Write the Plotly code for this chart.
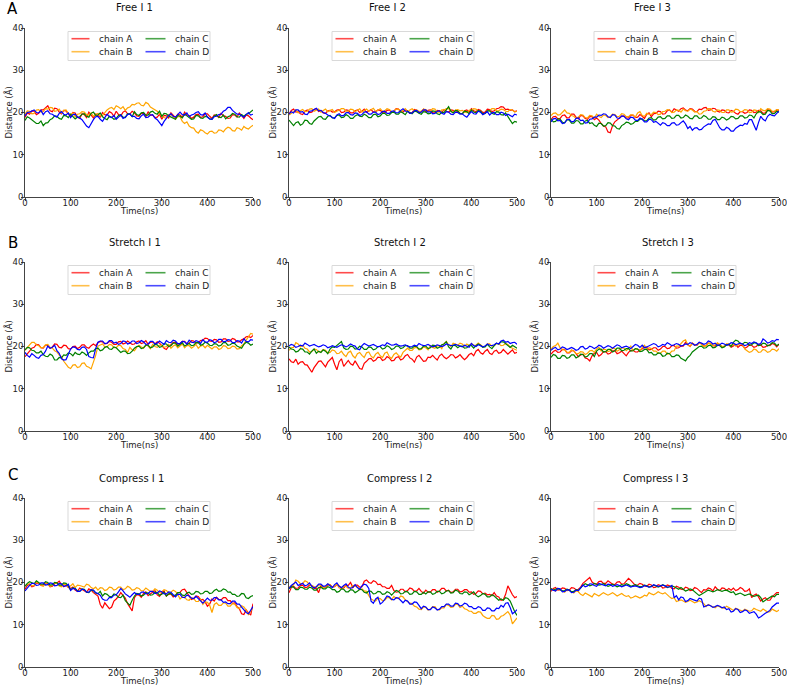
import plotly.graph_objects as go

# ---------------- data ----------------
TIME_NS = list(range(0, 501, 5))
X_TICKS = [0, 100, 200, 300, 400, 500]
Y_TICKS = [0, 10, 20, 30, 40]
CHAINS = ["chain A", "chain B", "chain C", "chain D"]
PANEL_TITLES = ["Free I 1", "Free I 2", "Free I 3",
                "Stretch I 1", "Stretch I 2", "Stretch I 3",
                "Compress I 1", "Compress I 2", "Compress I 3"]
ROW_LETTERS = ["A", "B", "C"]

FREE1_A = [18.8, 19.9, 19.6, 20.4, 20.3, 19.5, 19.8, 20.6, 20.6, 21.2, 21.6, 20.4, 20.2, 21.0, 20.9, 20.1, 19.7, 20.5, 20.4, 19.6,
           19.2, 20.0, 19.9, 18.9, 18.6, 19.7, 19.5, 18.8, 20.1, 19.4, 18.7, 19.6, 19.3, 18.9, 20.0, 19.5, 19.4, 20.2, 19.9, 19.1,
           20.3, 19.5, 19.2, 20.1, 20.4, 19.7, 19.6, 20.3, 19.9, 19.2, 19.1, 19.8, 19.8, 19.0, 20.2, 19.4, 19.4, 18.8, 18.9, 19.6,
           18.4, 19.3, 19.2, 18.7, 19.9, 19.3, 18.8, 19.6, 19.4, 18.9, 20.1, 19.4, 19.3, 18.6, 18.9, 19.5, 19.6, 18.8, 19.0, 19.7,
           19.7, 19.1, 18.6, 19.4, 19.3, 18.8, 19.8, 19.2, 19.1, 18.6, 18.7, 19.5, 19.4, 18.9, 19.9, 19.3, 18.6, 19.4, 19.2, 18.7, 18.3]
FREE1_B = [19.6, 20.4, 20.3, 19.7, 19.8, 20.6, 20.7, 20.1, 20.2, 20.9, 20.8, 21.2, 21.1, 20.3, 20.4, 20.8, 19.9, 20.5, 20.6, 19.8,
           19.5, 19.9, 19.0, 19.6, 19.7, 20.2, 20.1, 19.5, 19.4, 19.9, 19.1, 19.6, 19.8, 19.2, 19.3, 20.1, 20.6, 21.0, 21.2, 20.7,
           21.6, 21.3, 20.9, 21.4, 20.5, 21.1, 21.3, 21.9, 21.8, 22.2, 22.3, 21.7, 21.6, 22.4, 22.1, 21.3, 21.0, 20.6, 20.3, 19.7,
           19.2, 18.8, 18.6, 19.5, 19.6, 18.9, 18.4, 19.1, 19.0, 17.9, 17.4, 17.8, 16.8, 16.4, 16.3, 15.5, 15.1, 15.9, 15.7, 15.2,
           14.9, 15.5, 15.6, 15.1, 15.2, 15.9, 15.8, 15.4, 16.1, 16.5, 16.3, 15.7, 15.6, 16.4, 16.2, 15.8, 16.7, 16.3, 16.1, 16.6, 17.0]
FREE1_C = [18.1, 19.0, 18.7, 18.2, 17.9, 17.4, 17.4, 18.0, 16.9, 17.5, 17.6, 18.3, 18.6, 19.2, 19.1, 18.6, 18.4, 19.3, 19.2, 18.8,
           19.6, 19.0, 18.5, 18.9, 19.0, 19.6, 19.7, 19.1, 18.9, 19.8, 20.1, 19.3, 19.4, 19.9, 19.0, 18.6, 18.3, 19.1, 18.9, 18.4,
           18.6, 19.3, 19.5, 18.9, 18.8, 19.7, 19.6, 19.0, 20.2, 19.5, 19.3, 19.9, 20.0, 19.4, 19.4, 20.1, 20.3, 19.8, 19.6, 20.3,
           19.1, 19.8, 19.7, 19.2, 18.9, 18.5, 18.4, 19.3, 19.1, 18.7, 19.6, 19.2, 18.9, 18.4, 18.5, 19.3, 19.2, 18.7, 18.6, 19.1,
           19.0, 18.5, 18.4, 19.2, 19.5, 18.9, 18.8, 19.4, 18.5, 19.0, 19.2, 19.8, 19.6, 19.0, 18.9, 19.5, 19.1, 19.6, 19.7, 20.2, 20.6]
FREE1_D = [19.2, 20.0, 20.1, 20.4, 20.6, 20.0, 19.9, 20.5, 19.5, 20.2, 20.4, 19.7, 19.6, 19.2, 18.9, 19.8, 20.2, 19.6, 19.4, 19.9,
           18.8, 19.5, 19.6, 18.9, 18.7, 18.3, 17.6, 16.8, 16.4, 17.5, 18.3, 19.0, 19.1, 18.4, 17.9, 18.8, 19.6, 19.0, 18.8, 19.3,
           18.4, 18.9, 19.4, 18.6, 18.9, 19.5, 19.7, 19.1, 19.1, 18.6, 18.5, 19.2, 19.6, 18.8, 18.9, 19.4, 19.5, 18.7, 18.3, 17.6,
           16.9, 17.9, 18.6, 19.3, 19.7, 19.1, 18.9, 19.6, 20.1, 19.5, 19.4, 19.9, 19.0, 19.4, 19.6, 20.0, 20.2, 19.5, 19.4, 19.9,
           18.9, 18.5, 18.4, 19.0, 19.1, 19.5, 19.6, 20.3, 20.6, 21.2, 21.2, 20.5, 20.1, 19.6, 19.6, 19.2, 18.9, 19.5, 20.0, 19.4, 19.6]

FREE2_A = [19.6, 20.5, 20.8, 20.1, 20.2, 19.7, 19.5, 20.3, 20.6, 20.0, 20.1, 20.7, 20.9, 20.2, 20.4, 19.9, 19.8, 20.4, 20.5, 20.1,
           20.2, 20.6, 20.7, 20.0, 20.1, 20.6, 20.5, 19.9, 19.9, 20.4, 20.6, 20.0, 20.3, 20.8, 20.0, 20.4, 20.7, 20.1, 20.2, 20.6,
           20.5, 20.0, 19.9, 20.5, 20.6, 20.1, 20.3, 20.9, 20.8, 20.2, 20.1, 20.6, 20.4, 19.8, 20.0, 20.7, 20.5, 20.0, 20.2, 20.8,
           20.2, 20.5, 20.6, 20.0, 19.9, 20.5, 20.4, 20.0, 20.7, 20.3, 20.1, 20.6, 20.5, 20.0, 20.3, 19.8, 19.7, 20.4, 20.6, 20.1,
           20.9, 20.4, 20.2, 20.7, 20.5, 20.0, 20.1, 20.8, 20.7, 20.2, 20.4, 20.9, 21.0, 21.4, 21.3, 20.7, 20.8, 20.5, 20.6, 20.2, 20.4]
FREE2_B = [19.4, 19.9, 20.2, 20.6, 19.9, 20.4, 20.7, 20.2, 20.3, 20.8, 20.9, 20.3, 20.5, 20.8, 20.1, 20.5, 20.8, 20.2, 20.4, 20.7,
           20.0, 20.4, 20.6, 20.9, 20.9, 20.3, 20.3, 20.8, 20.7, 20.2, 20.5, 20.9, 20.1, 20.5, 20.8, 20.3, 20.6, 21.0, 20.2, 20.6,
           20.9, 20.3, 20.4, 20.9, 20.7, 20.2, 20.3, 20.8, 20.8, 20.3, 20.5, 20.9, 20.2, 20.6, 20.9, 20.4, 20.6, 20.3, 20.3, 20.8,
           20.7, 20.2, 20.4, 20.9, 20.8, 20.1, 20.1, 20.6, 20.6, 20.9, 20.9, 20.3, 20.1, 20.6, 20.7, 20.4, 20.5, 20.1, 20.0, 20.5,
           20.6, 20.9, 20.8, 20.3, 20.3, 19.7, 19.7, 20.4, 20.5, 20.9, 20.9, 20.4, 20.4, 20.8, 20.7, 20.3, 20.2, 20.7, 20.6, 20.1, 20.3]
FREE2_C = [18.2, 17.4, 16.9, 17.6, 17.8, 17.0, 17.3, 18.2, 18.1, 17.4, 17.2, 18.0, 18.6, 19.0, 19.1, 18.5, 18.4, 19.1, 19.3, 18.7,
           18.7, 19.3, 19.4, 18.8, 18.9, 19.5, 19.2, 18.6, 18.6, 19.2, 19.5, 19.1, 19.0, 19.6, 19.3, 18.8, 18.8, 19.5, 19.6, 19.0,
           19.2, 19.8, 19.8, 19.3, 19.4, 20.0, 20.1, 19.6, 19.6, 20.2, 19.9, 19.5, 20.3, 20.0, 19.7, 20.3, 20.2, 19.8, 19.6, 20.2,
           20.1, 19.7, 19.8, 20.4, 20.3, 19.7, 19.5, 20.1, 20.0, 20.6, 21.4, 20.3, 19.9, 20.5, 20.4, 19.8, 19.7, 20.3, 20.2, 19.7,
           20.6, 20.1, 19.9, 20.5, 20.3, 19.7, 19.8, 20.4, 20.4, 19.8, 19.6, 20.2, 20.1, 19.5, 19.4, 19.9, 18.9, 18.2, 17.4, 17.9, 17.7]
FREE2_D = [19.6, 20.2, 19.9, 20.6, 20.6, 20.1, 20.2, 19.6, 19.5, 20.3, 20.4, 20.8, 21.0, 20.4, 20.5, 20.0, 19.8, 19.4, 19.2, 18.8,
           18.6, 19.4, 19.7, 19.2, 19.3, 19.9, 20.0, 19.5, 19.4, 19.9, 19.8, 19.3, 19.5, 20.1, 20.2, 19.6, 19.6, 20.1, 20.1, 19.5,
           19.7, 20.2, 20.3, 19.8, 19.8, 20.3, 20.4, 19.9, 20.0, 20.5, 20.9, 20.3, 20.3, 19.8, 19.9, 20.4, 20.5, 20.0, 20.1, 20.6,
           20.6, 20.1, 20.2, 19.7, 19.8, 20.3, 20.4, 19.8, 19.6, 20.2, 20.1, 19.6, 19.5, 20.1, 20.0, 19.6, 19.7, 19.2, 18.9, 19.6,
           20.2, 19.7, 19.6, 20.3, 20.1, 19.5, 19.8, 20.2, 19.4, 19.9, 20.0, 19.5, 19.5, 20.1, 19.9, 19.3, 19.6, 19.2, 19.0, 19.6, 19.4]

FREE3_A = [18.3, 19.0, 19.1, 18.5, 18.6, 19.3, 19.4, 18.7, 18.8, 19.6, 19.6, 18.9, 18.5, 19.3, 19.2, 18.6, 18.4, 19.1, 19.0, 18.3,
           18.7, 18.2, 17.4, 16.8, 16.6, 15.4, 15.2, 16.9, 17.8, 18.3, 18.6, 19.1, 19.2, 18.7, 18.7, 19.3, 19.4, 18.8, 18.9, 19.5,
           19.1, 18.6, 19.6, 19.9, 19.0, 19.7, 19.8, 20.3, 20.2, 19.6, 19.7, 20.4, 20.6, 20.1, 20.9, 20.5, 20.3, 20.9, 21.1, 20.6,
           20.4, 20.9, 20.8, 20.3, 20.2, 20.8, 20.7, 21.1, 21.2, 20.5, 20.6, 21.0, 20.9, 20.3, 20.1, 20.6, 20.5, 20.0, 19.9, 20.5,
           20.3, 19.8, 19.6, 20.2, 20.2, 19.8, 20.0, 20.6, 20.5, 20.0, 20.1, 20.5, 20.4, 19.8, 19.9, 20.7, 20.6, 20.1, 20.2, 20.6, 20.5]
FREE3_B = [19.3, 19.8, 19.9, 19.4, 19.5, 20.1, 20.6, 19.9, 19.8, 19.3, 19.1, 18.6, 18.9, 19.5, 19.4, 18.8, 18.7, 19.3, 19.2, 18.6,
           19.6, 19.1, 18.8, 19.4, 19.3, 18.8, 19.0, 19.6, 19.5, 19.0, 19.1, 19.7, 19.6, 19.0, 19.0, 19.5, 19.4, 18.9, 19.9, 20.2,
           19.3, 19.1, 19.8, 19.6, 19.5, 20.1, 20.0, 19.5, 19.6, 20.2, 20.3, 20.7, 20.6, 20.0, 20.1, 20.6, 20.5, 20.1, 20.8, 20.4,
           20.3, 20.8, 20.6, 20.1, 20.2, 19.6, 19.7, 20.3, 20.4, 20.9, 20.9, 20.3, 20.1, 20.6, 20.5, 20.0, 20.0, 20.6, 20.6, 20.1,
           20.2, 20.8, 20.7, 20.2, 20.3, 20.7, 20.6, 20.0, 20.1, 20.6, 20.5, 20.0, 20.9, 20.5, 20.4, 20.9, 20.8, 20.3, 20.3, 20.7, 20.6]
FREE3_C = [18.5, 17.8, 17.9, 18.5, 18.4, 17.7, 17.6, 18.3, 18.2, 17.5, 17.5, 18.1, 18.0, 17.3, 17.3, 18.0, 18.1, 17.4, 17.6, 17.0,
           16.7, 17.5, 17.4, 16.8, 16.9, 17.6, 17.5, 16.9, 16.8, 16.2, 16.1, 16.9, 17.2, 17.7, 17.6, 17.2, 17.4, 17.9, 17.9, 18.4,
           18.5, 18.0, 18.1, 18.7, 18.8, 18.2, 18.3, 18.9, 19.0, 18.5, 18.6, 19.2, 19.2, 18.6, 18.7, 19.3, 19.3, 18.7, 18.8, 19.4,
           19.1, 18.6, 18.5, 19.2, 19.2, 18.6, 18.7, 19.3, 19.0, 18.4, 18.4, 19.0, 18.9, 18.3, 18.3, 18.9, 18.7, 18.2, 18.5, 19.1,
           19.0, 18.5, 18.6, 19.2, 19.2, 18.7, 18.8, 19.4, 19.3, 18.7, 19.7, 20.2, 20.1, 19.5, 19.6, 20.5, 20.4, 19.7, 19.8, 20.3, 20.1]
FREE3_D = [17.8, 18.5, 18.6, 18.0, 18.1, 17.4, 17.5, 18.3, 18.4, 17.8, 17.9, 18.6, 18.7, 18.1, 18.2, 17.5, 17.6, 18.4, 18.5, 18.9,
           18.9, 19.4, 19.3, 19.7, 19.6, 19.0, 18.8, 19.5, 19.4, 18.7, 18.6, 19.2, 19.1, 18.5, 18.3, 18.9, 18.8, 18.2, 18.1, 18.7,
           18.4, 17.8, 17.8, 18.4, 18.3, 17.7, 17.9, 17.4, 17.0, 17.6, 17.4, 16.9, 16.9, 17.5, 17.6, 17.0, 17.1, 17.6, 18.0, 17.3,
           16.2, 16.7, 15.8, 16.3, 16.4, 15.9, 16.0, 16.6, 16.9, 17.3, 17.2, 18.1, 18.4, 17.5, 16.4, 15.9, 15.9, 16.5, 16.2, 15.6,
           15.6, 16.3, 16.6, 17.0, 16.9, 17.4, 17.2, 18.3, 18.3, 17.1, 15.8, 17.6, 19.1, 18.4, 18.0, 19.1, 19.6, 19.3, 19.2, 19.8, 20.3]

STRETCH1_A = [17.6, 18.4, 18.9, 19.6, 19.8, 20.5, 20.4, 19.7, 19.6, 20.3, 20.3, 19.6, 19.9, 20.6, 20.5, 19.8, 19.7, 20.3, 20.2, 19.5,
              19.4, 20.0, 20.1, 19.5, 19.8, 20.4, 20.4, 19.8, 19.6, 20.2, 20.6, 20.2, 20.9, 21.2, 21.1, 20.6, 20.7, 21.2, 21.0, 20.5,
              20.5, 21.1, 21.2, 20.6, 20.8, 21.3, 21.0, 20.5, 20.6, 21.1, 21.3, 20.7, 20.9, 21.4, 20.5, 21.0, 21.1, 20.6, 21.1, 20.8,
              20.2, 19.6, 19.3, 20.1, 20.4, 21.0, 21.0, 20.5, 20.7, 21.2, 21.2, 20.6, 20.8, 21.4, 21.3, 20.8, 20.9, 21.4, 21.5, 22.0,
              21.9, 21.3, 21.2, 21.7, 21.6, 21.0, 21.1, 21.8, 21.8, 21.2, 21.3, 21.9, 21.7, 21.1, 21.1, 21.6, 21.8, 22.3, 22.4, 22.1, 22.6]
STRETCH1_B = [19.1, 19.9, 20.4, 21.0, 21.0, 20.4, 20.2, 19.7, 19.8, 20.4, 20.5, 19.8, 19.6, 19.0, 18.7, 18.0, 17.6, 16.5, 15.9, 15.1,
              14.8, 15.6, 15.7, 15.0, 15.2, 16.0, 16.1, 15.3, 15.1, 14.7, 16.3, 17.9, 20.1, 20.4, 20.6, 19.9, 19.9, 20.5, 20.4, 19.7,
              19.7, 20.3, 20.2, 19.5, 19.3, 18.6, 19.8, 19.2, 19.0, 19.8, 20.3, 19.9, 19.6, 20.4, 20.1, 19.5, 20.5, 20.0, 19.8, 20.3,
              20.3, 19.8, 20.0, 20.5, 19.6, 20.1, 20.4, 19.7, 20.1, 20.6, 19.7, 20.2, 20.2, 19.6, 20.0, 20.5, 19.6, 20.1, 20.3, 19.7,
              20.3, 19.8, 19.4, 19.9, 19.9, 19.3, 19.5, 20.2, 20.1, 19.5, 19.6, 20.1, 20.0, 19.4, 19.5, 20.2, 20.6, 21.5, 22.3, 23.1, 22.9]
STRETCH1_C = [19.2, 19.8, 19.7, 19.1, 19.0, 18.5, 18.5, 18.9, 18.1, 17.7, 17.6, 18.2, 17.9, 16.8, 16.8, 17.4, 17.3, 18.0, 17.9, 18.5,
              18.3, 17.8, 18.6, 18.2, 18.1, 18.7, 18.4, 17.9, 18.5, 18.9, 18.9, 19.5, 19.6, 19.0, 19.2, 19.8, 20.0, 19.4, 19.3, 19.9,
              19.7, 19.1, 18.6, 18.9, 18.9, 18.3, 18.4, 18.9, 19.6, 20.0, 20.1, 19.5, 19.7, 20.3, 20.3, 19.7, 19.9, 20.5, 20.4, 19.8,
              20.0, 20.7, 20.6, 20.0, 20.2, 20.8, 20.8, 20.1, 20.4, 20.9, 20.1, 20.5, 20.7, 20.2, 20.3, 20.9, 20.9, 20.3, 20.5, 21.0,
              20.8, 20.3, 20.2, 20.7, 20.6, 20.1, 20.3, 20.9, 20.9, 20.3, 20.4, 20.8, 20.7, 20.1, 19.9, 19.6, 20.5, 21.0, 20.8, 20.3, 20.6]
STRETCH1_D = [18.6, 17.9, 17.5, 18.3, 17.9, 17.4, 17.2, 17.9, 18.1, 18.9, 20.1, 19.6, 19.8, 20.3, 19.0, 18.4, 17.1, 16.8, 16.9, 18.2,
              19.4, 19.9, 19.8, 19.3, 19.2, 19.8, 19.9, 19.3, 17.6, 17.4, 17.3, 19.5, 21.0, 21.3, 21.3, 20.7, 20.8, 21.4, 21.4, 20.8,
              21.0, 20.5, 20.7, 21.3, 21.2, 20.6, 20.8, 21.3, 21.3, 20.7, 20.9, 21.4, 21.1, 20.5, 20.6, 21.2, 21.2, 20.6, 20.8, 21.3,
              21.0, 20.5, 21.4, 21.0, 20.9, 21.5, 21.3, 20.7, 20.7, 21.2, 21.1, 20.6, 21.5, 21.0, 20.9, 21.4, 21.2, 20.7, 21.6, 21.1,
              21.0, 21.6, 21.4, 20.9, 21.1, 21.7, 21.7, 21.1, 21.2, 21.6, 21.5, 20.9, 20.9, 21.4, 21.3, 20.8, 21.8, 21.2, 21.1, 21.6, 21.5]

STRETCH2_A = [17.1, 16.4, 16.2, 17.0, 15.8, 16.3, 16.4, 15.7, 15.6, 14.6, 13.9, 15.0, 15.7, 16.5, 16.6, 15.8, 15.2, 16.3, 16.9, 17.4,
              15.8, 14.5, 16.4, 17.1, 15.3, 16.0, 16.7, 15.9, 15.6, 16.6, 15.6, 14.8, 14.6, 16.0, 16.5, 17.1, 17.2, 16.5, 16.8, 17.5,
              17.4, 16.7, 16.9, 17.6, 17.3, 16.6, 16.7, 17.4, 17.6, 16.8, 17.1, 17.8, 18.1, 17.3, 17.0, 16.3, 17.5, 17.9, 17.2, 16.5,
              16.6, 17.5, 17.4, 17.9, 17.3, 16.8, 17.8, 18.2, 17.5, 17.1, 17.5, 18.1, 18.0, 17.3, 17.6, 18.1, 17.4, 16.9, 17.4, 18.1,
              18.4, 17.8, 18.9, 19.3, 18.5, 18.2, 18.9, 19.3, 18.4, 18.1, 18.9, 19.1, 18.4, 18.6, 19.3, 18.8, 18.2, 18.7, 19.2, 18.4, 18.6]
STRETCH2_B = [19.1, 19.7, 19.8, 20.9, 20.6, 19.9, 20.3, 19.6, 19.4, 18.7, 18.8, 19.4, 19.3, 18.7, 18.7, 19.3, 19.1, 18.5, 18.6, 19.2,
              19.0, 18.3, 18.4, 18.9, 18.1, 17.6, 18.6, 18.9, 17.8, 17.3, 18.3, 18.6, 17.9, 17.4, 18.5, 18.7, 17.7, 17.3, 18.2, 18.6,
              17.8, 17.4, 18.4, 18.7, 17.6, 17.2, 18.1, 18.5, 17.9, 17.5, 18.6, 19.0, 19.6, 19.1, 19.1, 19.7, 19.8, 19.2, 19.3, 19.9,
              19.7, 19.2, 20.2, 19.8, 19.6, 20.2, 20.1, 19.5, 20.7, 21.2, 20.4, 20.0, 20.8, 20.6, 20.3, 20.8, 20.6, 20.1, 20.6, 20.2,
              20.7, 20.3, 20.3, 20.8, 20.5, 20.0, 20.0, 20.6, 20.6, 20.1, 20.2, 20.7, 20.7, 20.2, 20.3, 20.7, 20.5, 19.9, 19.6, 19.3, 19.1]
STRETCH2_C = [19.9, 19.4, 19.3, 18.7, 18.9, 19.5, 19.4, 18.7, 18.7, 18.2, 18.9, 19.4, 18.4, 18.9, 18.6, 19.2, 18.9, 18.3, 19.4, 19.9,
              19.8, 20.3, 20.6, 21.2, 19.7, 19.3, 19.4, 20.1, 20.0, 19.4, 19.5, 20.1, 19.9, 19.3, 19.3, 19.9, 19.8, 19.2, 19.4, 20.0,
              20.0, 19.4, 19.6, 20.2, 19.9, 19.3, 19.5, 20.1, 20.1, 19.5, 19.7, 20.2, 20.2, 19.6, 19.6, 20.1, 20.0, 19.4, 19.5, 20.1,
              20.1, 19.5, 19.7, 20.3, 20.2, 19.6, 19.8, 20.4, 20.6, 21.1, 19.9, 19.4, 20.3, 20.2, 19.7, 20.1, 20.1, 19.6, 19.7, 20.3,
              20.2, 19.6, 20.2, 20.6, 20.3, 19.8, 19.9, 20.5, 19.9, 19.5, 20.2, 20.8, 20.6, 21.1, 21.1, 20.6, 20.2, 19.8, 20.3, 19.9, 19.6]
STRETCH2_D = [20.1, 20.5, 20.3, 19.8, 20.0, 20.3, 20.1, 20.8, 20.5, 20.1, 20.3, 20.5, 20.2, 19.9, 20.1, 20.4, 20.2, 19.7, 19.9, 20.2,
              20.0, 19.8, 20.1, 20.4, 20.2, 19.9, 20.2, 20.6, 20.3, 20.1, 19.4, 19.2, 20.2, 20.7, 20.4, 20.1, 20.3, 20.5, 20.2, 19.9,
              20.1, 20.4, 20.2, 20.9, 20.6, 20.3, 20.4, 20.6, 20.3, 20.1, 20.2, 20.4, 20.1, 19.9, 20.0, 20.3, 20.1, 20.7, 20.4, 20.2,
              20.3, 20.5, 20.2, 19.9, 20.1, 20.4, 20.2, 20.0, 20.2, 20.6, 20.4, 20.2, 20.3, 20.5, 20.3, 20.0, 19.9, 20.3, 20.1, 19.8,
              20.7, 20.2, 20.0, 20.4, 20.2, 19.9, 20.1, 20.6, 20.3, 20.2, 20.4, 20.8, 20.6, 21.3, 21.5, 21.0, 21.2, 20.7, 20.9, 21.0, 20.5]

STRETCH3_A = [18.2, 18.8, 19.1, 18.6, 18.7, 19.3, 19.3, 18.5, 18.5, 19.0, 19.0, 18.2, 17.6, 18.0, 18.2, 17.3, 17.1, 16.6, 17.8, 18.4,
              18.6, 17.7, 18.1, 18.8, 18.8, 18.2, 18.4, 19.0, 19.0, 18.3, 18.5, 18.9, 18.3, 17.8, 18.6, 19.1, 19.1, 18.7, 18.7, 19.2,
              19.4, 19.8, 19.8, 19.2, 19.3, 19.7, 19.7, 19.1, 19.4, 20.0, 20.0, 19.5, 19.6, 20.2, 20.2, 19.6, 19.7, 20.1, 20.1, 21.0,
              20.4, 20.0, 20.8, 20.4, 20.3, 20.9, 20.6, 20.1, 20.2, 20.8, 20.7, 20.2, 20.1, 20.7, 20.5, 19.9, 20.0, 20.5, 20.4, 19.8,
              20.1, 20.5, 19.8, 20.3, 20.2, 19.6, 19.9, 20.4, 20.3, 19.8, 20.0, 20.5, 20.4, 19.8, 19.9, 20.3, 20.2, 20.7, 20.5, 19.9, 20.6]
STRETCH3_B = [19.4, 20.0, 20.2, 20.8, 19.7, 19.2, 19.2, 18.6, 18.6, 19.2, 18.9, 18.3, 18.3, 18.8, 18.7, 18.1, 18.4, 19.0, 19.1, 18.6,
              19.4, 19.8, 18.9, 19.4, 19.3, 18.8, 19.0, 19.6, 19.5, 18.9, 19.2, 19.7, 19.6, 19.0, 19.5, 20.1, 19.0, 19.5, 19.4, 18.9,
              19.8, 20.3, 19.2, 19.7, 19.5, 18.9, 18.9, 18.4, 18.4, 18.9, 18.9, 18.2, 18.3, 18.9, 19.0, 20.1, 20.1, 20.7, 21.3, 21.6,
              20.4, 20.0, 20.8, 20.3, 20.3, 20.9, 20.6, 20.0, 20.2, 20.8, 20.7, 20.2, 20.4, 20.9, 20.5, 20.0, 20.1, 20.6, 20.6, 20.1,
              20.6, 20.1, 20.3, 20.8, 20.5, 19.4, 19.0, 18.6, 18.8, 19.4, 19.2, 18.6, 18.7, 19.3, 19.1, 18.6, 18.8, 19.4, 19.3, 18.9, 19.5]
STRETCH3_C = [17.4, 18.1, 17.9, 17.2, 17.2, 17.9, 17.8, 17.2, 17.4, 18.0, 18.0, 17.3, 17.6, 18.2, 18.1, 17.5, 17.7, 18.3, 18.3, 17.6,
              18.9, 19.4, 19.4, 18.7, 18.8, 19.3, 19.3, 18.7, 19.0, 19.6, 19.6, 19.0, 19.1, 19.5, 19.5, 18.9, 19.0, 19.5, 19.4, 18.8,
              18.9, 19.3, 19.3, 18.5, 18.6, 18.0, 18.0, 18.5, 18.4, 17.7, 17.8, 18.4, 18.3, 17.6, 17.6, 18.0, 17.9, 17.2, 16.9, 16.6,
              17.4, 17.9, 18.7, 19.1, 19.4, 20.0, 20.1, 19.6, 19.7, 20.2, 20.3, 19.7, 19.8, 20.3, 20.2, 19.7, 19.9, 20.4, 20.5, 20.0,
              21.0, 21.5, 21.3, 20.7, 20.6, 21.0, 20.9, 20.3, 20.4, 20.9, 20.8, 20.2, 20.3, 20.8, 20.7, 20.1, 20.4, 20.9, 20.8, 20.2, 20.5]
STRETCH3_D = [19.1, 19.6, 19.8, 19.2, 19.4, 19.9, 19.7, 19.3, 19.5, 19.8, 19.5, 19.1, 19.3, 19.9, 20.0, 19.4, 19.6, 20.1, 19.9, 19.5,
              19.8, 20.3, 20.1, 19.6, 19.9, 20.2, 20.0, 19.6, 20.0, 20.4, 20.2, 19.7, 19.9, 20.1, 19.8, 19.5, 20.0, 20.5, 20.3, 19.8,
              20.3, 19.7, 19.9, 20.2, 20.4, 20.7, 20.5, 19.9, 20.1, 20.5, 20.3, 20.9, 20.6, 20.2, 20.4, 20.7, 20.5, 20.1, 20.3, 20.6,
              20.5, 20.9, 20.7, 20.3, 20.5, 21.0, 20.8, 20.5, 20.7, 21.3, 21.1, 20.6, 20.8, 20.2, 20.4, 20.8, 20.6, 20.3, 20.5, 20.9,
              20.8, 20.4, 20.6, 20.8, 20.6, 20.2, 20.4, 20.9, 20.7, 21.1, 20.9, 20.5, 20.7, 21.8, 21.4, 20.8, 21.0, 21.4, 21.2, 21.7, 21.6]

COMPRESS1_A = [18.4, 19.3, 19.6, 19.0, 19.2, 19.9, 19.8, 19.3, 19.4, 19.9, 19.7, 19.0, 19.1, 19.7, 19.9, 20.3, 19.5, 19.0, 19.4, 18.8,
               18.6, 18.9, 18.2, 17.9, 18.7, 18.4, 18.0, 17.7, 18.5, 18.2, 17.6, 17.2, 16.8, 14.8, 13.9, 15.2, 14.6, 13.8, 14.2, 15.6,
               16.1, 16.7, 17.6, 16.9, 16.3, 15.0, 14.1, 13.3, 16.4, 17.1, 17.0, 16.5, 17.4, 17.8, 16.9, 17.3, 17.5, 18.1, 17.1, 16.7,
               17.6, 18.0, 16.8, 17.2, 17.3, 16.6, 16.9, 17.5, 17.7, 18.3, 18.4, 17.6, 16.6, 16.0, 16.2, 16.8, 16.7, 15.9, 16.0, 15.4,
               14.4, 14.9, 16.1, 15.6, 16.5, 16.0, 15.9, 16.4, 16.4, 15.7, 15.7, 15.0, 15.2, 14.3, 13.8, 12.6, 12.4, 13.5, 12.8, 12.3, 15.0]
COMPRESS1_B = [19.2, 19.6, 19.7, 19.2, 19.3, 20.2, 19.9, 19.3, 19.1, 19.7, 19.6, 19.1, 19.3, 19.9, 19.8, 19.2, 19.0, 19.6, 19.5, 19.0,
               19.2, 19.7, 18.8, 19.4, 19.3, 19.0, 18.9, 19.6, 19.4, 18.8, 18.5, 18.9, 18.2, 18.8, 18.7, 18.1, 18.3, 18.9, 18.8, 18.2,
               18.4, 18.9, 18.9, 18.3, 18.5, 19.1, 18.8, 18.2, 18.3, 18.8, 18.6, 18.0, 18.1, 18.7, 18.4, 17.9, 17.9, 18.5, 18.2, 17.6,
               17.8, 18.3, 18.1, 17.6, 17.7, 18.2, 17.9, 17.2, 16.1, 16.6, 16.5, 15.9, 15.8, 16.4, 16.2, 15.5, 15.5, 16.1, 14.8, 15.4,
               15.3, 14.6, 12.9, 14.8, 15.2, 14.6, 14.6, 15.2, 15.1, 14.4, 14.4, 15.0, 14.9, 14.1, 13.8, 14.5, 14.2, 13.5, 12.3, 13.2, 14.1]
COMPRESS1_C = [19.1, 19.8, 20.2, 19.9, 19.7, 20.4, 20.1, 19.6, 19.6, 20.2, 20.0, 19.4, 19.5, 20.0, 19.9, 19.4, 19.4, 19.9, 19.8, 19.2,
               18.2, 18.7, 18.6, 18.0, 17.9, 18.5, 18.4, 17.7, 17.6, 18.2, 18.1, 17.5, 17.3, 17.9, 16.8, 17.4, 17.2, 16.7, 16.6, 17.3,
               17.1, 16.5, 16.4, 17.0, 15.7, 15.1, 14.6, 15.8, 16.8, 17.4, 17.3, 16.8, 17.0, 17.6, 17.5, 17.0, 17.1, 17.7, 17.6, 17.0,
               17.2, 17.7, 16.8, 17.3, 17.4, 16.9, 17.0, 17.6, 17.6, 17.0, 16.9, 17.5, 17.7, 17.2, 17.3, 17.9, 17.8, 17.3, 17.4, 17.9,
               17.9, 17.4, 17.5, 18.1, 18.4, 17.9, 18.0, 18.5, 18.3, 17.7, 17.8, 17.2, 17.2, 16.7, 16.8, 17.4, 17.3, 16.4, 16.2, 16.7, 16.9]
COMPRESS1_D = [18.0, 18.7, 19.3, 19.8, 19.8, 19.3, 19.4, 19.9, 19.9, 19.4, 19.5, 19.9, 19.8, 19.2, 19.3, 19.8, 19.7, 19.1, 19.2, 19.6,
               18.1, 18.6, 18.5, 17.9, 17.9, 18.4, 18.3, 17.7, 17.7, 18.3, 18.2, 17.6, 17.4, 17.0, 16.1, 15.8, 15.8, 16.5, 16.4, 17.0,
               17.1, 17.8, 18.6, 18.0, 17.3, 16.9, 16.5, 17.1, 17.6, 17.2, 17.2, 17.7, 17.8, 17.3, 17.4, 17.9, 17.9, 17.4, 17.5, 18.0,
               17.8, 17.3, 17.3, 17.8, 17.7, 17.1, 16.6, 17.2, 17.2, 16.5, 16.4, 17.0, 16.8, 16.3, 16.2, 16.7, 16.2, 15.6, 15.1, 15.7,
               16.3, 15.8, 15.8, 16.4, 16.4, 15.9, 15.9, 15.3, 15.4, 15.0, 15.0, 15.6, 15.6, 14.9, 14.9, 14.2, 13.5, 12.9, 12.6, 13.4, 14.3]

COMPRESS2_A = [17.6, 18.8, 19.1, 18.6, 18.7, 19.3, 19.4, 18.8, 18.9, 19.4, 19.2, 18.6, 18.6, 17.6, 19.3, 18.8, 18.9, 19.4, 19.5, 18.9,
               19.0, 19.5, 19.2, 18.6, 18.7, 19.3, 19.3, 20.0, 18.8, 19.4, 19.4, 18.9, 19.0, 20.3, 20.6, 20.0, 19.8, 20.4, 20.2, 19.5,
               19.6, 19.0, 19.0, 18.6, 18.6, 19.3, 18.1, 17.7, 17.8, 18.4, 18.4, 17.8, 18.1, 18.7, 18.5, 17.9, 18.0, 18.6, 17.9, 17.5,
               18.2, 17.7, 17.7, 18.3, 18.3, 17.7, 18.0, 18.6, 18.6, 18.0, 18.2, 17.6, 17.8, 18.4, 18.4, 17.8, 17.9, 18.3, 18.3, 17.7,
               17.8, 17.2, 17.4, 18.0, 17.9, 17.3, 17.5, 17.1, 17.2, 16.9, 17.6, 16.8, 16.6, 15.8, 15.9, 17.2, 19.2, 18.1, 17.1, 16.4, 16.7]
COMPRESS2_B = [18.9, 19.2, 19.4, 20.6, 20.3, 19.7, 19.8, 20.4, 20.1, 19.5, 19.3, 19.0, 18.8, 19.4, 19.4, 18.8, 19.0, 19.6, 19.5, 18.9,
               19.1, 19.6, 18.7, 18.6, 19.2, 19.1, 18.6, 18.8, 19.3, 19.2, 18.9, 18.3, 18.5, 18.0, 17.9, 16.9, 16.1, 15.8, 15.6, 16.3,
               16.2, 15.7, 15.8, 16.4, 16.4, 15.9, 16.7, 16.3, 16.2, 16.8, 16.6, 15.9, 15.4, 15.1, 15.0, 14.4, 14.2, 13.7, 13.6, 14.2,
               14.1, 13.5, 13.7, 14.3, 14.3, 13.6, 13.5, 14.0, 14.0, 14.8, 14.6, 14.1, 14.2, 14.8, 14.8, 14.1, 14.4, 13.8, 13.6, 13.2,
               13.2, 12.7, 12.7, 13.1, 13.0, 12.2, 11.8, 11.5, 11.5, 12.2, 12.1, 11.3, 11.4, 12.0, 12.2, 12.6, 13.1, 12.3, 10.2, 10.9, 11.6]
COMPRESS2_C = [18.5, 19.0, 18.9, 18.3, 18.3, 18.9, 18.8, 18.4, 18.4, 18.9, 18.7, 18.2, 18.2, 18.8, 18.9, 18.5, 18.5, 19.0, 18.8, 18.3,
               18.3, 17.7, 17.9, 18.5, 18.4, 17.8, 17.8, 18.3, 18.2, 17.6, 17.9, 18.4, 18.3, 17.7, 17.5, 18.0, 17.9, 17.3, 17.4, 17.9,
               17.8, 17.2, 17.3, 17.8, 17.6, 17.0, 17.6, 18.1, 17.9, 17.3, 17.4, 17.9, 17.8, 17.2, 17.3, 17.9, 17.8, 17.2, 17.2, 17.7,
               17.3, 17.8, 17.8, 17.2, 17.4, 17.9, 17.9, 17.3, 17.5, 18.0, 18.1, 17.5, 17.6, 18.2, 18.0, 17.4, 17.3, 17.8, 17.7, 17.1,
               17.4, 17.8, 17.0, 16.6, 16.9, 17.4, 17.2, 16.6, 16.6, 17.1, 16.8, 16.3, 15.8, 16.1, 15.8, 16.4, 16.2, 15.6, 14.3, 13.1, 12.2]
COMPRESS2_D = [18.6, 19.3, 19.7, 20.1, 19.3, 19.6, 19.8, 19.2, 19.4, 19.9, 19.1, 18.7, 19.0, 19.6, 19.6, 19.1, 19.2, 19.7, 19.2, 18.8,
               19.5, 19.9, 19.1, 18.8, 19.3, 19.7, 18.9, 18.6, 18.9, 19.5, 18.8, 18.4, 19.2, 19.6, 19.4, 18.6, 15.6, 15.1, 16.1, 16.5,
               14.9, 15.3, 16.0, 16.8, 16.6, 16.0, 15.9, 16.4, 16.3, 15.7, 15.2, 15.8, 15.6, 14.9, 14.9, 15.4, 15.3, 14.6, 13.8, 14.4,
               14.2, 13.6, 13.6, 14.2, 14.0, 13.5, 13.7, 14.3, 14.3, 14.9, 14.9, 14.4, 14.4, 15.1, 15.0, 14.4, 14.6, 15.1, 14.9, 14.3,
               14.3, 13.8, 13.8, 14.3, 14.1, 13.4, 13.4, 14.0, 13.9, 13.3, 13.3, 13.9, 13.8, 14.6, 14.2, 15.1, 15.2, 14.1, 12.6, 13.0, 13.6]

COMPRESS3_A = [17.9, 18.6, 18.8, 18.2, 18.3, 18.7, 18.6, 18.1, 18.2, 18.8, 18.7, 18.3, 18.4, 18.9, 19.8, 20.2, 20.6, 21.2, 20.1, 19.7,
               19.6, 20.2, 20.3, 19.8, 19.8, 20.4, 20.0, 19.6, 19.5, 20.1, 20.2, 19.6, 19.7, 20.3, 21.0, 20.5, 19.9, 19.3, 19.4, 19.8,
               19.6, 19.2, 19.1, 19.6, 19.4, 18.8, 18.9, 19.5, 19.3, 18.7, 18.8, 19.4, 19.2, 18.6, 18.5, 19.1, 18.9, 18.4, 18.3, 18.9,
               18.7, 18.1, 18.2, 18.8, 18.6, 18.0, 17.6, 18.3, 18.2, 18.7, 18.5, 18.0, 19.0, 18.4, 18.1, 18.7, 18.6, 18.1, 18.6, 18.2,
               18.7, 18.1, 18.3, 18.8, 18.5, 17.9, 18.0, 18.5, 16.4, 17.0, 17.3, 16.6, 15.6, 16.1, 16.4, 15.8, 15.8, 16.6, 17.1, 17.6, 17.6]
COMPRESS3_B = [18.6, 18.2, 18.0, 18.6, 18.3, 17.9, 17.7, 18.4, 18.1, 17.7, 17.5, 18.1, 17.8, 17.2, 16.9, 17.5, 17.2, 16.8, 16.6, 17.4,
               17.1, 16.8, 17.2, 17.6, 17.3, 17.0, 17.3, 17.6, 17.2, 16.8, 17.1, 17.4, 17.0, 16.7, 16.9, 16.3, 16.5, 16.8, 16.6, 16.3,
               16.6, 17.0, 16.8, 17.6, 17.3, 17.1, 17.4, 17.8, 17.5, 17.3, 17.6, 17.0, 16.6, 16.2, 16.4, 15.5, 15.7, 15.9, 15.6, 15.3,
               15.5, 15.8, 15.5, 15.2, 15.4, 15.7, 15.4, 15.0, 14.3, 14.8, 14.5, 14.2, 14.0, 14.5, 14.2, 14.0, 13.9, 14.4, 14.1, 13.8,
               13.4, 13.9, 13.6, 13.3, 13.2, 13.7, 13.4, 13.2, 13.3, 13.9, 13.6, 13.3, 13.2, 13.7, 13.4, 13.0, 13.1, 13.7, 13.4, 13.1, 13.5]
COMPRESS3_C = [18.6, 18.2, 18.4, 18.6, 18.3, 18.0, 18.1, 18.4, 18.2, 17.8, 17.9, 18.3, 18.1, 18.8, 19.3, 19.7, 19.5, 19.2, 19.4, 19.8,
               19.6, 19.4, 19.5, 19.7, 19.4, 19.1, 19.3, 19.6, 19.3, 19.0, 19.2, 19.5, 19.3, 19.7, 19.5, 19.1, 19.3, 19.5, 19.2, 19.0,
               19.1, 19.4, 19.2, 18.9, 19.1, 19.4, 19.2, 18.9, 19.1, 19.5, 19.2, 18.8, 19.0, 19.2, 19.0, 18.7, 18.4, 18.8, 18.5, 18.0,
               18.2, 18.5, 18.3, 17.8, 17.5, 16.9, 17.2, 17.6, 17.8, 18.2, 18.0, 17.8, 18.0, 18.3, 18.1, 17.9, 18.1, 18.2, 17.9, 17.6,
               17.8, 17.1, 17.3, 17.5, 17.2, 16.9, 17.1, 17.3, 17.0, 16.7, 16.9, 17.0, 16.4, 15.4, 15.8, 16.2, 16.5, 16.8, 16.6, 17.2, 17.2]
COMPRESS3_D = [18.4, 18.1, 18.0, 18.6, 18.5, 17.8, 17.9, 18.3, 18.2, 17.6, 17.7, 18.2, 18.1, 18.7, 19.4, 19.0, 19.2, 19.7, 19.6, 19.3,
               19.1, 19.8, 19.6, 19.4, 19.2, 19.6, 19.5, 19.1, 19.3, 19.5, 19.3, 19.0, 19.2, 19.4, 19.2, 18.9, 19.1, 19.2, 19.0, 18.8,
               18.9, 19.3, 19.1, 18.9, 19.0, 19.5, 19.3, 19.1, 19.2, 19.4, 19.2, 18.9, 19.0, 19.3, 16.4, 16.9, 15.9, 16.6, 16.4, 15.5,
               15.7, 16.2, 16.0, 15.8, 15.6, 16.3, 16.1, 14.2, 14.4, 14.7, 14.5, 14.1, 14.3, 14.6, 14.4, 14.0, 14.2, 13.6, 13.8, 13.0,
               13.2, 13.8, 13.6, 12.9, 13.1, 13.5, 13.3, 12.7, 12.9, 13.1, 12.5, 11.6, 11.9, 12.4, 12.7, 13.0, 13.4, 14.2, 14.6, 15.1, 15.1]

PANEL_SERIES = [
    [FREE1_A, FREE1_B, FREE1_C, FREE1_D],
    [FREE2_A, FREE2_B, FREE2_C, FREE2_D],
    [FREE3_A, FREE3_B, FREE3_C, FREE3_D],
    [STRETCH1_A, STRETCH1_B, STRETCH1_C, STRETCH1_D],
    [STRETCH2_A, STRETCH2_B, STRETCH2_C, STRETCH2_D],
    [STRETCH3_A, STRETCH3_B, STRETCH3_C, STRETCH3_D],
    [COMPRESS1_A, COMPRESS1_B, COMPRESS1_C, COMPRESS1_D],
    [COMPRESS2_A, COMPRESS2_B, COMPRESS2_C, COMPRESS2_D],
    [COMPRESS3_A, COMPRESS3_B, COMPRESS3_C, COMPRESS3_D],
]
_bad = [(p, j, len(s)) for p, grp in enumerate(PANEL_SERIES) for j, s in enumerate(grp) if len(s) != len(TIME_NS)]
assert not _bad, f"series length mismatch: {_bad}"

# ---------------- layout / style ----------------
W, H = 787, 686
FONT = "DejaVu Sans"
COLORS = ["#ff0000", "#ffa500", "#008000", "#0000ff"]
AXIS_COLOR = "#444444"
COL_PX = [(25, 253), (289, 517), (551, 779)]
ROW_PX = [(28, 197), (262, 431), (498, 667)]
TITLE_X = [[134, 387, 652], [135, 400, 668], [131, 399, 655]]
TITLE_Y = [8, 243, 478]
LETTER_POS = [(12, 9), (13, 243), (13, 475)]
# legend key geometry (px, relative to the legend frame)
LEG_W, LEG_TOP, LEG_BOT = 142, 3.5, 32.5
LEG_ROW_DY = [10.7, 23.7]
LEG_LINE_X = [(3.5, 21.5), (77.5, 97.5)]
LEG_TEXT_X = [28.5, 104.5]


def fx(x):
    return x / W


def fy(y):
    return 1 - y / H


fig = go.Figure()
layout = dict(
    width=W, height=H,
    margin=dict(l=0, r=0, t=0, b=0, pad=0, autoexpand=False),
    paper_bgcolor="white", plot_bgcolor="white",
    font=dict(family=FONT, size=9, color="#222222"),
    showlegend=False, hovermode=False,
)
annotations = []
shapes = []

for p in range(9):
    r, c = divmod(p, 3)
    n = p + 1
    xs = "x" if n == 1 else f"x{n}"
    ys = "y" if n == 1 else f"y{n}"
    x0, x1 = COL_PX[c]
    y0, y1 = ROW_PX[r]
    xcen = (x0 + x1) / 2

    layout["xaxis" if n == 1 else f"xaxis{n}"] = dict(
        domain=[fx(x0), fx(x1)], anchor=ys, range=[0, 500],
        tickmode="array", tickvals=X_TICKS, ticks="outside", ticklen=3,
        tickcolor=AXIS_COLOR, tickwidth=1, showline=True, linecolor=AXIS_COLOR,
        linewidth=1, showgrid=False, zeroline=False, ticklabelstandoff=-5,
        ticklabeloverflow="allow",
        tickfont=dict(family=FONT, size=8.5, color="#222222"),
    )
    layout["yaxis" if n == 1 else f"yaxis{n}"] = dict(
        domain=[fy(y1), fy(y0)], anchor=xs, range=[0, 40],
        tickmode="array", tickvals=Y_TICKS, ticks="outside", ticklen=3,
        tickcolor=AXIS_COLOR, tickwidth=1, showline=True, linecolor=AXIS_COLOR,
        linewidth=1, showgrid=False, zeroline=False, ticklabelstandoff=-4,
        ticklabeloverflow="allow",
        tickfont=dict(family=FONT, size=8.5, color="#222222"),
    )

    for j, (name, vals) in enumerate(zip(CHAINS, PANEL_SERIES[p])):
        fig.add_trace(go.Scatter(
            x=TIME_NS, y=vals, mode="lines", name=name,
            line=dict(color=COLORS[j], width=1.2),
            xaxis=xs, yaxis=ys, hoverinfo="skip",
        ))

    # legend (frame + keys)
    box_left = xcen - LEG_W / 2
    shapes.append(dict(
        type="rect", xref="paper", yref="paper",
        x0=fx(box_left), x1=fx(box_left + LEG_W), y0=fy(y0 + LEG_BOT), y1=fy(y0 + LEG_TOP),
        line=dict(color="#d9d9d9", width=1), fillcolor="rgba(255,255,255,0.8)",
        layer="above",
    ))
    for j, name in enumerate(CHAINS):
        col = 0 if j < 2 else 1
        row = j % 2
        ky = y0 + LEG_ROW_DY[row]
        shapes.append(dict(
            type="line", xref="paper", yref="paper",
            x0=fx(box_left + LEG_LINE_X[col][0]), x1=fx(box_left + LEG_LINE_X[col][1]),
            y0=fy(ky), y1=fy(ky), line=dict(color=COLORS[j], width=1.6),
            opacity=0.7, layer="above",
        ))
        annotations.append(dict(
            text=name, x=fx(box_left + LEG_TEXT_X[col]), y=fy(ky),
            xref="paper", yref="paper", xanchor="left", yanchor="middle",
            showarrow=False, font=dict(family=FONT, size=9, color="#222222"),
        ))

    annotations.append(dict(
        text=PANEL_TITLES[p], x=fx(TITLE_X[r][c]), y=fy(TITLE_Y[r]),
        xref="paper", yref="paper", xanchor="center", yanchor="middle",
        showarrow=False, font=dict(family=FONT, size=10, color="#111111"),
    ))
    annotations.append(dict(
        text="Time(ns)", x=fx(xcen), y=fy(y1 + 14),
        xref="paper", yref="paper", xanchor="center", yanchor="middle",
        showarrow=False, font=dict(family=FONT, size=8.5, color="#222222"),
    ))
    annotations.append(dict(
        text="Distance (Å)", x=fx(x0 - 17), y=fy((y0 + y1) / 2),
        xref="paper", yref="paper", xanchor="center", yanchor="middle",
        textangle=-90, showarrow=False,
        font=dict(family=FONT, size=8.5, color="#222222"),
    ))

for r in range(3):
    annotations.append(dict(
        text=ROW_LETTERS[r], x=fx(LETTER_POS[r][0]), y=fy(LETTER_POS[r][1]),
        xref="paper", yref="paper", xanchor="center", yanchor="middle",
        showarrow=False, font=dict(family=FONT, size=15, color="#000000"),
    ))

layout["annotations"] = annotations
layout["shapes"] = shapes
fig.update_layout(**layout)
fig.write_html(
    "out.html",
    config={"displayModeBar": False, "staticPlot": True},
    post_script="document.body.style.margin='0px';document.body.style.padding='0px';"
                "document.body.style.overflow='hidden';",
)
